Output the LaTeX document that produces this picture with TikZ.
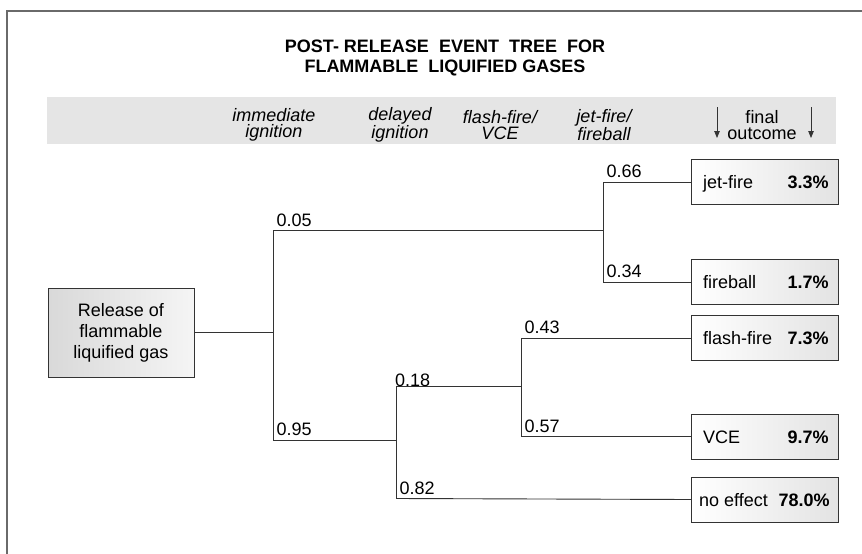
\documentclass[tikz,border=0pt]{standalone}
\usepackage{fontspec}
\setmainfont{Liberation Sans}
\usetikzlibrary{arrows.meta}
\definecolor{linec}{HTML}{333333}
\definecolor{bandc}{HTML}{E5E5E5}
\definecolor{framec}{HTML}{6A6A6A}
\begin{document}
\begin{tikzpicture}[x=1pt,y=-1pt,
  outbox/.style={draw=linec, line width=0.9pt, minimum width=147pt, minimum height=45pt,
    left color=white, right color=black!11, anchor=west, inner sep=0pt},
  rootbox/.style={draw=linec, line width=0.9pt, minimum width=146pt, minimum height=89pt,
    left color=black!15, right color=black!4, align=center, inner sep=0pt,
    font=\fontsize{18}{21}\selectfont},
  branch/.style={draw=linec, line width=0.9pt},
  prob/.style={font=\fontsize{18}{18}\selectfont, inner xsep=3.5pt, inner ysep=4pt, anchor=south west},
  hdr/.style={font=\fontsize{18}{16.5}\selectfont\itshape, align=center, inner sep=0pt},
  oname/.style={font=\fontsize{18}{18}\selectfont, anchor=base west, inner sep=0pt},
  opct/.style={font=\fontsize{18}{18}\selectfont\bfseries, anchor=base east, inner sep=0pt},
  darrow/.style={draw=linec, line width=0.8pt, -{Triangle[length=7pt,width=5.5pt]}},
]
\useasboundingbox (0,0) rectangle (862,554);
% frame (top and left edges visible)
\coordinate (fbl) at (7,560);
\coordinate (ftl) at (7,11);
\coordinate (ftr) at (870,11);
\draw[framec, line width=1.6pt] (fbl) -- (ftl) -- (ftr);

% title
\node[font=\fontsize{18}{20}\selectfont\bfseries, align=center, inner sep=0pt] (title) at (445,58)
  {POST- RELEASE\ \ EVENT\ \ TREE\ \ FOR\\FLAMMABLE\ \ LIQUIFIED GASES};

% header band
\node[fill=bandc, minimum width=789pt, minimum height=47pt, inner sep=0pt, anchor=north west] (band) at (47,97) {};
\node[hdr] (h1) at (274,125) {immediate\\ignition};
\node[hdr] (h2) at (400,125) {delayed\\ignition};
\node[hdr] (h3) at (500,125) {flash-fire/\\VCE};
\node[hdr] (h4) at (604,125) {jet-fire/\\fireball};
\node[hdr, font=\fontsize{18}{16.5}\selectfont] (h5) at (762,125) {final\\outcome};
\coordinate (a1t) at (717,107);
\coordinate (a1b) at (717,138);
\coordinate (a2t) at (811,107);
\coordinate (a2b) at (811,138);
\draw[darrow] (a1t) -- (a1b);
\draw[darrow] (a2t) -- (a2b);

% root
\node[rootbox] (root) at (121,332.5) {Release of\\flammable\\liquified gas};

% junctions
\coordinate (j1) at (273,332.5);
\coordinate (j1t) at (273,230);
\coordinate (j1b) at (273,440);
\coordinate (j2) at (603,230);
\coordinate (j2t) at (603,182);
\coordinate (j2b) at (603,282);
\coordinate (j3) at (396,440);
\coordinate (j3t) at (396,386);
\coordinate (j3b) at (396,498.5);
\coordinate (j4) at (521,386);
\coordinate (j4t) at (521,338);
\coordinate (j4b) at (521,436.5);

% outcome boxes
\node[outbox] (jet) at (691,182) {};
\node[outbox] (fb) at (691,282) {};
\node[outbox] (ff) at (691,338) {};
\node[outbox] (vce) at (691,436.5) {};
\node[outbox] (ne) at (691,499.5) {};

\node[oname] (jetn) at ([xshift=12pt,yshift=-6.5pt]jet.west) {jet-fire};
\node[opct] (jetp) at ([xshift=-10pt,yshift=-6.5pt]jet.east) {3.3\%};
\node[oname] (fbn) at ([xshift=12pt,yshift=-6.5pt]fb.west) {fireball};
\node[opct] (fbp) at ([xshift=-10pt,yshift=-6.5pt]fb.east) {1.7\%};
\node[oname] (ffn) at ([xshift=12pt,yshift=-6.5pt]ff.west) {flash-fire};
\node[opct] (ffp) at ([xshift=-10pt,yshift=-6.5pt]ff.east) {7.3\%};
\node[oname] (vcen) at ([xshift=12pt,yshift=-6.5pt]vce.west) {VCE};
\node[opct] (vcep) at ([xshift=-10pt,yshift=-6.5pt]vce.east) {9.7\%};
\node[oname] (nen) at ([xshift=8pt,yshift=-6.5pt]ne.west) {no effect};
\node[opct] (nep) at ([xshift=-9pt,yshift=-6.5pt]ne.east) {78.0\%};

% branches
\draw[branch] (root.east) -- (j1);
\draw[branch] (j1t) -- (j1b);
\draw[branch] (j1t) -- (j2);
\draw[branch] (j2t) -- (j2b);
\draw[branch] (j2t) -- (jet.west);
\draw[branch] (j2b) -- (fb.west);
\draw[branch] (j1b) -- (j3);
\draw[branch] (j3t) -- (j3b);
\draw[branch] (j3t) -- (j4);
\draw[branch] (j4t) -- (j4b);
\draw[branch] (j4t) -- (ff.west);
\draw[branch] (j4b) -- (vce.west);
\draw[branch] (j3b) -- (ne.west);

% probabilities
\node[prob, inner ysep=3pt] (p05) at (j1t) {0.05};
\node[prob] (p95) at (j1b) {0.95};
\node[prob] (p66) at (j2t) {0.66};
\node[prob] (p34) at (j2b) {0.34};
\node[prob, inner sep=0pt] (p18) at ([xshift=-1pt,yshift=-1pt]j3t) {0.18};
\node[prob] (p82) at (j3b) {0.82};
\node[prob] (p43) at (j4t) {0.43};
\node[prob] (p57) at (j4b) {0.57};
\end{tikzpicture}
\end{document}
